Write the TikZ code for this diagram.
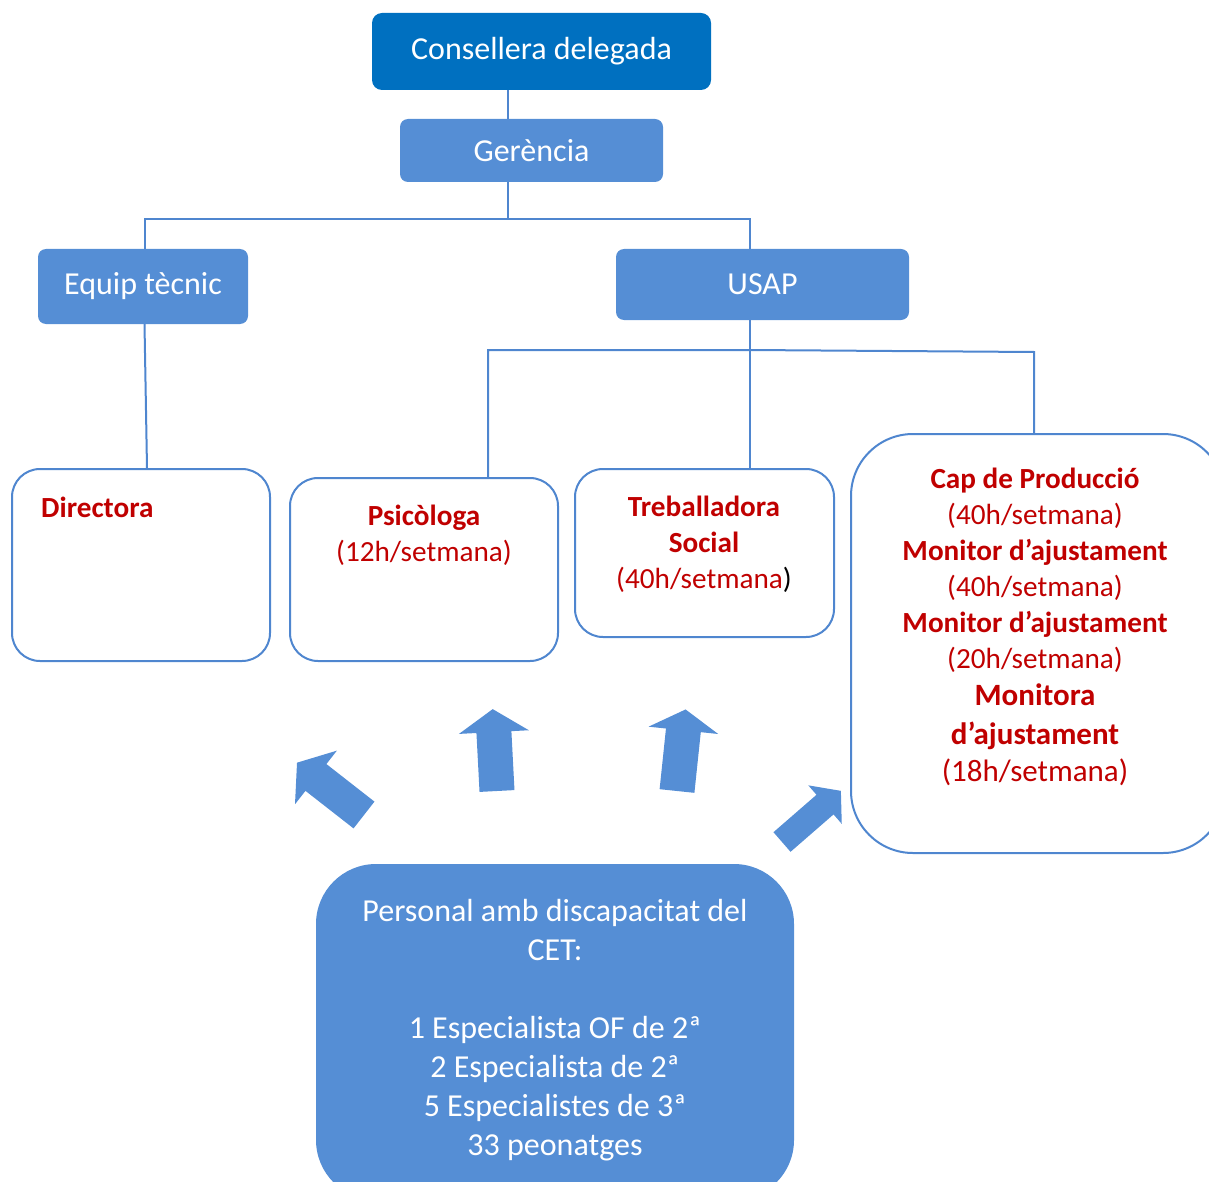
\documentclass[tikz,border=0pt]{standalone}
\usepackage{fontspec}
\setmainfont{Carlito}
\usetikzlibrary{positioning}

\definecolor{topblue}{HTML}{0070C0}
\definecolor{boxblue}{HTML}{558ED5}
\definecolor{lineblue}{HTML}{4F86CF}
\definecolor{rolered}{HTML}{C00000}

\newcommand{\orgtopfont}{\fontsize{32}{39}\selectfont}
\newcommand{\orgboxfont}{\fontsize{29.2}{36}\selectfont}
\newcommand{\orgbigfont}{\fontsize{31}{38.5}\selectfont}

\tikzset{
  head/.style={draw=none, fill=boxblue, text=white, font=\orgtopfont, rounded corners=8pt, inner sep=0pt},
  staff/.style={draw=lineblue, line width=2pt, fill=white, rounded corners=28pt, inner sep=0pt},
  role/.style={text=rolered, font=\orgboxfont, align=center, inner sep=0pt, anchor=north},
  conn/.style={draw=lineblue, line width=2pt},
  blockarrow/.style={fill=boxblue}
}

\begin{document}
\begin{tikzpicture}[x=1pt, y=-1pt]
  \useasboundingbox (0,0) rectangle (1209,1182);
  \clip (0,0) rectangle (1209,1182);
  % management
  \node[head, fill=topblue, rounded corners=10pt, minimum width=339pt, minimum height=77pt] (cons) at (541.5,51.5) {Consellera delegada};
  \node[head, minimum width=263pt, minimum height=63pt] (ger)   at (531.5,150.5) {Gerència};
  \node[head, minimum width=210pt, minimum height=75pt] (equip) at (143,286.5)   {Equip tècnic};
  \node[head, minimum width=293pt, minimum height=71pt] (usap)  at (762.5,284.5) {USAP};
  % staff boxes
  \node[staff, minimum width=258pt, minimum height=192pt] (dir)  at (141,565)   {};
  \node[staff, minimum width=268pt, minimum height=183pt] (psi)  at (424,569.5) {};
  \node[staff, minimum width=259pt, minimum height=168pt] (treb) at (704.5,553) {};
  \node[staff, rounded corners=62pt, minimum width=374pt, minimum height=419pt] (cap) at (1038,643.5) {};
  \node[head, rounded corners=60pt, minimum width=478pt, minimum height=336pt] (pers) at (555,1032) {};
  % texts
  \node[role, anchor=base west, font=\orgboxfont\bfseries] (dir-t) at (41,517) {Directora};
  \node[role] (psi-t)  at (424,505) {\textbf{Psicòloga}\\(12h/setmana)};
  \node[role] (treb-t) at (704,496) {\textbf{Treballadora}\\\textbf{Social}\\(40h/setmana\textcolor{black}{)}};
  \node[role] (cap-t)  at (1035,468) {\textbf{Cap de Producció}\\(40h/setmana)\\\textbf{Monitor d’ajustament}\\(40h/setmana)\\\textbf{Monitor d’ajustament}\\(20h/setmana)\\[1pt]\orgbigfont\textbf{Monitora}\\[2.5pt]\orgbigfont\textbf{d’ajustament}\\[1.5pt]\orgbigfont(18h/setmana)};
  \node[anchor=north, align=center, text=white, font=\orgtopfont, inner sep=0pt] (pers-t) at (555,898.6)
    {Personal amb discapacitat del\\CET:\\[39pt]1 Especialista OF de 2ª\\2 Especialista de 2ª\\5 Especialistes de 3ª\\33 peonatges};
  % connectors
  \coordinate (top-split)  at (508,219);
  \coordinate (usap-split) at (750,350);
  \coordinate (cap-drop)   at (1034,352);
  \draw[conn] (cons.south -| top-split) -- (ger.north -| top-split);
  \draw[conn] (ger.south -| top-split) -- (top-split);
  \draw[conn] ([xshift=1.5pt]equip.north) |- (top-split) -| ([xshift=-12.5pt]usap.north);
  \draw[conn] ([xshift=1.5pt]equip.south) -- ([xshift=6pt]dir.north);
  \draw[conn] ([xshift=-12.5pt]usap.south) -- ([xshift=45.5pt]treb.north);
  \draw[conn] ([xshift=64pt]psi.north) |- (usap-split) -- (cap-drop) -- (cap-drop |- cap.north);
  % block arrows
  \foreach \ax/\ay/\ang/\sw/\hw/\sl/\hl in {364/815/142/34/68/61/24, 497/791/93/35/70/59/23, 677/791/84/35/70/61/21, 782/842/41/26/51/57/21}
    \fill[blockarrow, shift={(\ax,\ay)}, rotate=\ang]
      (0,-\sw/2) -- (\sl,-\sw/2) -- (\sl,-\hw/2) -- (\sl+\hl,0) -- (\sl,\hw/2) -- (\sl,\sw/2) -- (0,\sw/2) -- cycle;
\end{tikzpicture}
\end{document}
